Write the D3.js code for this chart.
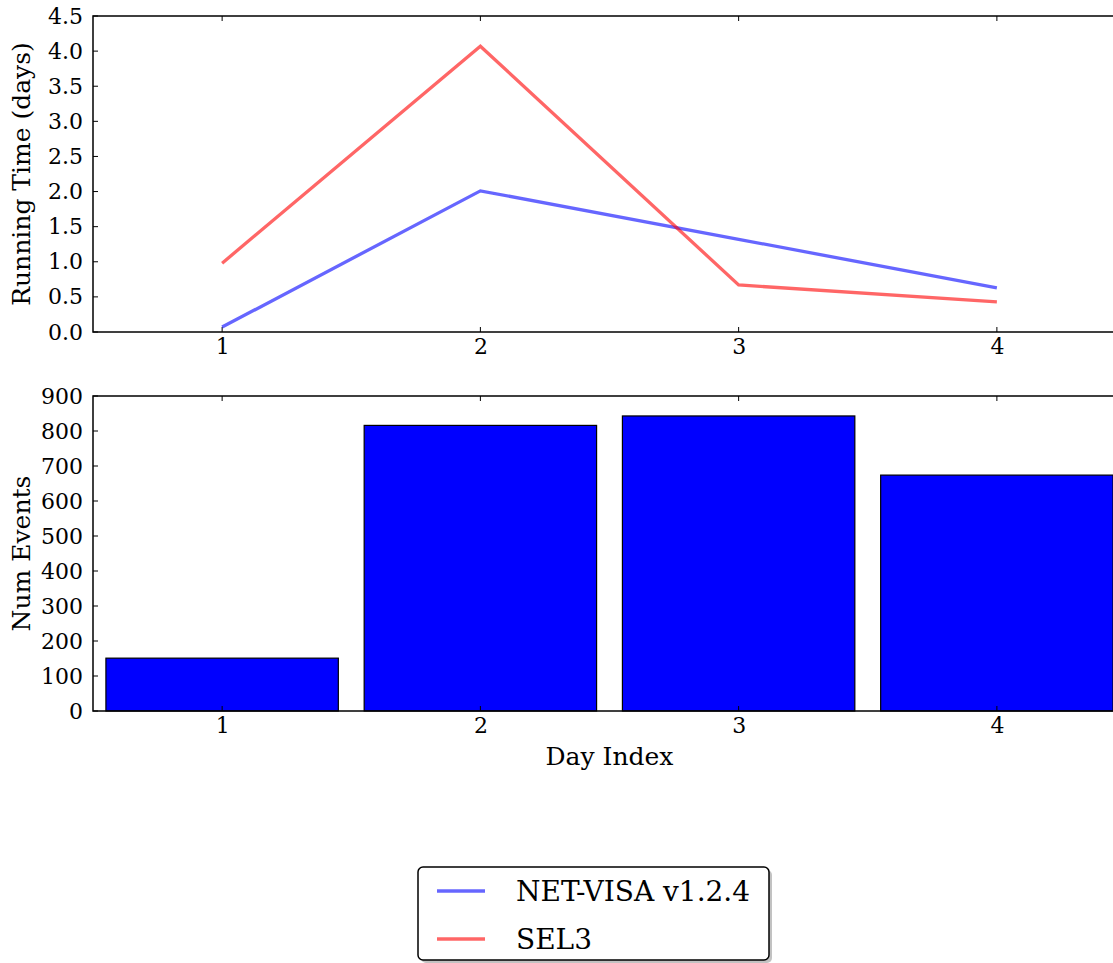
<!DOCTYPE html>
<html>
<head>
<meta charset="utf-8">
<script src="https://cdn.jsdelivr.net/npm/d3@7"></script>
<style>
  html, body { margin: 0; padding: 0; background: #fff; }
  svg { display: block; }
  text { font-family: "DejaVu Serif", serif; fill: #000; }
</style>
</head>
<body>
<svg id="chart" width="1113" height="963"></svg>
<script>
// Day indices shared by both panels
const days = [1, 2, 3, 4];

// Running time per day (days)
const netvisaTime = [0.07, 2.01, 1.32, 0.63];
const sel3Time = [0.98, 4.07, 0.67, 0.43];

// Number of events per day
const numEvents = [151, 816, 843, 674];

// Axis tick values
const timeTicks = [0, 0.5, 1.0, 1.5, 2.0, 2.5, 3.0, 3.5, 4.0, 4.5];
const eventTicks = [0, 100, 200, 300, 400, 500, 600, 700, 800, 900];

const seriesNames = ["NET-VISA v1.2.4", "SEL3"];
const seriesColors = ["rgba(0,0,255,0.6)", "rgba(255,0,0,0.6)"];

const svg = d3.select("#chart");

const plotLeft = 93, plotRight = 1126;
const x = d3.scaleLinear().domain([0.5, 4.5]).range([plotLeft, plotRight]);

const topPanel = { top: 16, bottom: 332 };
const botPanel = { top: 396, bottom: 711 };

const yTime = d3.scaleLinear().domain([0, 4.5]).range([topPanel.bottom, topPanel.top]);
const yEvents = d3.scaleLinear().domain([0, 900]).range([botPanel.bottom, botPanel.top]);

const tickFont = 22;
const labelFont = 25;

function drawFrame(g, y, ticks, fmt, panel) {
  // left axis labels
  const left = g.append("g").attr("transform", `translate(${plotLeft},0)`)
    .call(d3.axisLeft(y).tickValues(ticks).tickFormat(fmt).tickSize(0).tickPadding(10));
  left.select(".domain").remove();
  left.selectAll("text").style("font-size", tickFont + "px").style("font-family", "DejaVu Serif");

  // bottom axis labels
  const bottom = g.append("g").attr("transform", `translate(0,${panel.bottom})`)
    .call(d3.axisBottom(x).tickValues(days).tickFormat(d3.format("d")).tickSize(0).tickPadding(6));
  bottom.select(".domain").remove();
  bottom.selectAll("text").style("font-size", tickFont + "px").style("font-family", "DejaVu Serif");

  // inward tick marks on all four sides
  const tk = g.append("g").attr("stroke", "#000").attr("stroke-width", 1);
  days.forEach(d => {
    tk.append("line").attr("x1", x(d)).attr("x2", x(d)).attr("y1", panel.bottom).attr("y2", panel.bottom - 5);
    tk.append("line").attr("x1", x(d)).attr("x2", x(d)).attr("y1", panel.top).attr("y2", panel.top + 5);
  });
  ticks.forEach(t => {
    tk.append("line").attr("x1", plotLeft).attr("x2", plotLeft + 5).attr("y1", y(t)).attr("y2", y(t));
  });
}

function drawSpines(g, panel) {
  g.append("rect")
    .attr("x", plotLeft).attr("y", panel.top)
    .attr("width", plotRight - plotLeft).attr("height", panel.bottom - panel.top)
    .attr("fill", "none").attr("stroke", "#000").attr("stroke-width", 1.5);
}

// ---- Top panel: running time lines ----
const gTop = svg.append("g");
drawFrame(gTop, yTime, timeTicks, d3.format(".1f"), topPanel);

const line = d3.line().x((d, i) => x(days[i])).y(d => yTime(d));
[netvisaTime, sel3Time].forEach((vals, k) => {
  gTop.append("path")
    .datum(vals)
    .attr("d", line)
    .attr("fill", "none")
    .attr("stroke", seriesColors[k])
    .attr("stroke-width", 3.3)
    .attr("stroke-linejoin", "miter");
});
drawSpines(gTop, topPanel);

gTop.append("text")
  .attr("transform", `translate(30,${(topPanel.top + topPanel.bottom) / 2}) rotate(-90)`)
  .attr("text-anchor", "middle")
  .style("font-size", labelFont + "px")
  .text("Running Time (days)");

// ---- Bottom panel: event counts ----
const gBot = svg.append("g");
const barWidth = 0.9;
gBot.selectAll("rect.bar")
  .data(numEvents)
  .enter().append("rect")
  .attr("class", "bar")
  .attr("x", (d, i) => x(days[i] - barWidth / 2))
  .attr("width", x(1 + barWidth) - x(1))
  .attr("y", d => yEvents(d))
  .attr("height", d => yEvents(0) - yEvents(d))
  .attr("fill", "#0000ff")
  .attr("stroke", "#000")
  .attr("stroke-width", 1.2);

drawFrame(gBot, yEvents, eventTicks, d3.format("d"), botPanel);
drawSpines(gBot, botPanel);

gBot.append("text")
  .attr("transform", `translate(30,${(botPanel.top + botPanel.bottom) / 2}) rotate(-90)`)
  .attr("text-anchor", "middle")
  .style("font-size", labelFont + "px")
  .text("Num Events");

gBot.append("text")
  .attr("x", x(2.5))
  .attr("y", 765)
  .attr("text-anchor", "middle")
  .style("font-size", labelFont + "px")
  .text("Day Index");

// ---- Legend ----
const lg = svg.append("g").attr("transform", "translate(418,867)");
lg.append("rect")
  .attr("x", 3).attr("y", 3).attr("width", 351).attr("height", 93).attr("rx", 5)
  .attr("fill", "#999").attr("opacity", 0.6);
lg.append("rect")
  .attr("x", 0).attr("y", 0).attr("width", 351).attr("height", 93).attr("rx", 5)
  .attr("fill", "#fff").attr("stroke", "#000").attr("stroke-width", 1.5);
seriesNames.forEach((name, i) => {
  const yy = 24 + i * 48;
  lg.append("line")
    .attr("x1", 19).attr("x2", 67).attr("y1", yy).attr("y2", yy)
    .attr("stroke", seriesColors[i]).attr("stroke-width", 3.3);
  lg.append("text")
    .attr("x", 98).attr("y", yy + 10)
    .style("font-size", "28px")
    .text(name);
});
</script>
</body>
</html>
